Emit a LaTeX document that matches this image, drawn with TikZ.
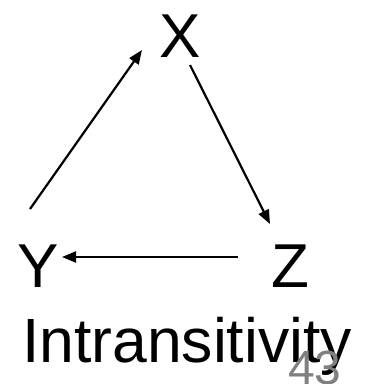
\documentclass[tikz,border=0pt]{standalone}
\usepackage{fontspec}
\setmainfont{Liberation Sans}
\usetikzlibrary{arrows.meta,calc}
\begin{document}
\begin{tikzpicture}[x=1pt,y=-1pt,
  lbl/.style={anchor=base,inner sep=0pt,font=\fontsize{62}{70}\selectfont},
  arr/.style={line width=2.2pt,-{Triangle[length=14pt,width=11pt]}}]
\useasboundingbox (0,0) rectangle (366,384);
\node[lbl] (X) at (180,57) {X};
\node[lbl] (Y) at (38,287) {Y};
\node[lbl] (Z) at (290,287) {Z};
\node[lbl,font=\fontsize{62.5}{70}\selectfont] (T) at (187,362) {Intransitivity};
\node[anchor=base,inner sep=0pt,text=black!50,font=\fontsize{48}{50}\selectfont] (N) at (315,384) {43};
\draw[arr] ($(Y.base)+(-8,-78)$) -- ($(X.base)+(-38,-7)$);
\draw[arr] ($(X.base)+(10,8)$) -- ($(Z.base)+(-20,-63)$);
\draw[arr] ($(Z.base)+(-52,-30)$) -- ($(Y.base)+(24,-30)$);
\end{tikzpicture}
\end{document}
